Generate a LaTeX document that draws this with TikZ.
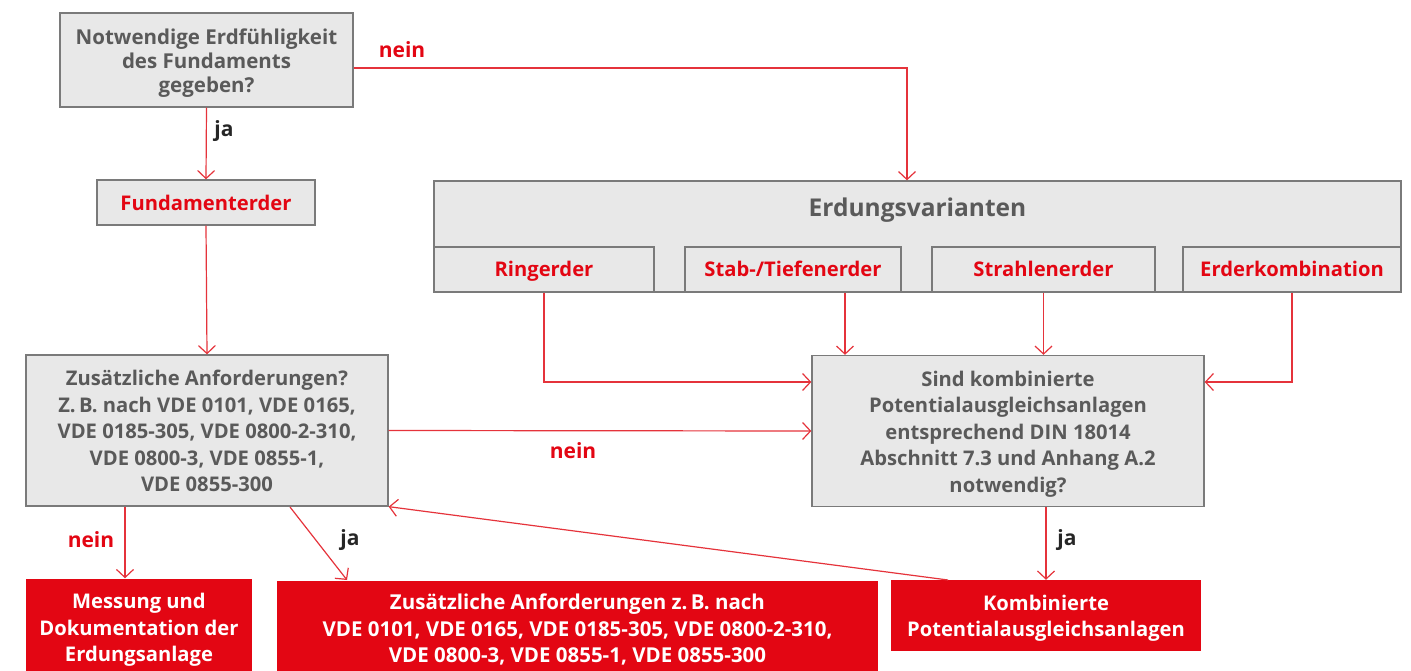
\documentclass[tikz,border=0pt]{standalone}
\usepackage{fontspec}
\setmainfont{Open Sans}
\usetikzlibrary{arrows.meta}
\definecolor{boxfill}{HTML}{E8E8E8}
\definecolor{boxline}{HTML}{7A7A7A}
\definecolor{txtgray}{HTML}{5A5A5A}
\definecolor{myred}{HTML}{E30613}
\definecolor{linered}{HTML}{E5333B}
\tikzset{
  graybox/.style={draw=boxline, fill=boxfill, line width=1.3pt, inner sep=0pt},
  redbox/.style={fill=myred, inner sep=0pt},
  txtg/.style={inner sep=0pt, align=center, font=\fontsize{20.2}{26.5}\selectfont\bfseries, text=txtgray},
  txtr/.style={txtg, text=myred, text height=15pt, text depth=3pt},
  txtw/.style={txtg, text=white},
  arr/.style={draw=linered, line width=1.2pt, -{Straight Barb[length=8pt,width=17pt,line width=1.2pt]}},
  lbred/.style={text=myred, font=\fontsize{21}{22}\selectfont\bfseries},
  lbblk/.style={text=black!85, font=\fontsize{21}{22}\selectfont\bfseries},
}
\begin{document}
\begin{tikzpicture}[x=1pt,y=-1pt]
\useasboundingbox (0,0) rectangle (1411,671);
% boxes
\node[graybox, minimum width=293pt, minimum height=94pt] (b1) at (206.5,60) {};
\node[graybox, minimum width=218pt, minimum height=45pt] (fund) at (206,202.5) {};
\node[graybox, minimum width=362pt, minimum height=151pt] (zus) at (207,430.5) {};
\node[graybox, minimum width=967pt, minimum height=111pt] (ev) at (917.5,236.5) {};
\node[graybox, minimum width=220pt, minimum height=45pt] (ring) at (544,269.5) {};
\node[graybox, minimum width=216pt, minimum height=45pt] (stab) at (793,269.5) {};
\node[graybox, minimum width=223pt, minimum height=45pt] (strahl) at (1043.5,269.5) {};
\node[graybox, minimum width=218pt, minimum height=45pt] (ek) at (1292,269.5) {};
\node[graybox, minimum width=392pt, minimum height=151pt] (sind) at (1008,431) {};
\node[redbox, minimum width=226pt, minimum height=95pt] (mess) at (139,626) {};
\node[redbox, minimum width=601pt, minimum height=92pt] (zr) at (577.5,627) {};
\node[redbox, minimum width=310pt, minimum height=71pt] (kombi) at (1046,615.5) {};
% texts
\node[txtg, font=\fontsize{20.5}{24}\selectfont\bfseries] (b1t) at ([yshift=-3.5pt]b1.center) {Notwendige Erdfühligkeit\\des Fundaments\\gegeben?};
\node[txtr] (fundt) at ([yshift=-2pt]fund.center) {Fundamenterder};
\node[txtg] (zust) at ([yshift=-0.5pt]zus.center) {Zusätzliche Anforderungen?\\Z.\,B. nach VDE 0101, VDE 0165,\\VDE 0185-305, VDE 0800-2-310,\\VDE 0800-3, VDE 0855-1,\\VDE 0855-300};
\node[text=txtgray, font=\fontsize{24.5}{26}\selectfont\bfseries] (evt) at (917.5,210.5) {Erdungsvarianten};
\node[txtr] (ringt) at ([yshift=-1pt]ring.center) {Ringerder};
\node[txtr] (stabt) at ([yshift=-1pt]stab.center) {Stab-/Tiefenerder};
\node[txtr] (strahlt) at ([yshift=-1pt]strahl.center) {Strahlenerder};
\node[txtr] (ekt) at ([yshift=-1pt]ek.center) {Erderkombination};
\node[txtg] (sindt) at ([yshift=-3pt]sind.center) {Sind kombinierte\\Potentialausgleichsanlagen\\entsprechend DIN 18014\\Abschnitt 7.3 und Anhang A.2\\notwendig?};
\node[txtw] (messt) at ([yshift=-4pt]mess.center) {Messung und\\Dokumentation der\\Erdungsanlage};
\node[txtw, font=\fontsize{20.5}{26.5}\selectfont\bfseries] (zrt) at ([yshift=-2.5pt]zr.center) {Zusätzliche Anforderungen z.\,B. nach\\VDE 0101, VDE 0165, VDE 0185-305, VDE 0800-2-310,\\VDE 0800-3, VDE 0855-1, VDE 0855-300};
\node[txtw] (kombit) at ([yshift=-2.5pt]kombi.center) {Kombinierte\\Potentialausgleichsanlagen};
% helper coordinates
\coordinate (x907) at (907,0);
\coordinate (x845) at (845,0);
\coordinate (x125) at (125,0);
\coordinate (zja1) at (290,507);
\coordinate (zja2) at (347,580);
\coordinate (kstart) at (948,580);
% connectors
\draw[arr] ([yshift=-8pt]b1.east) -| (ev.north -| x907);
\draw[arr] (b1.south) -- (fund.north);
\draw[arr] (fund.south) -- (zus.north);
\draw[arr] (ring.south) |- ([yshift=49pt]sind.west);
\draw[arr] (stab.south -| x845) -- (sind.north -| x845);
\draw[arr] (strahl.south) -- (strahl.south |- sind.north);
\draw[arr] (ek.south) |- ([yshift=49pt]sind.east);
\draw[arr] (zus.east) -- (sind.west);
\draw[arr] (sind.south -| kombi.north) -- (kombi.north);
\draw[arr] (kstart) -- (zus.south east);
\draw[arr] (zus.south -| x125) -- (mess.north -| x125);
\draw[arr] (zja1) -- (zja2);
% labels
\node[lbred] (l1) at (402,50) {nein};
\node[lbblk] (l2) at (224,131) {ja};
\node[lbred] (l3) at (573,451) {nein};
\node[lbred] (l4) at (91,540) {nein};
\node[lbblk] (l5) at (350,540) {ja};
\node[lbblk] (l6) at (1067,540) {ja};
\end{tikzpicture}
\end{document}
